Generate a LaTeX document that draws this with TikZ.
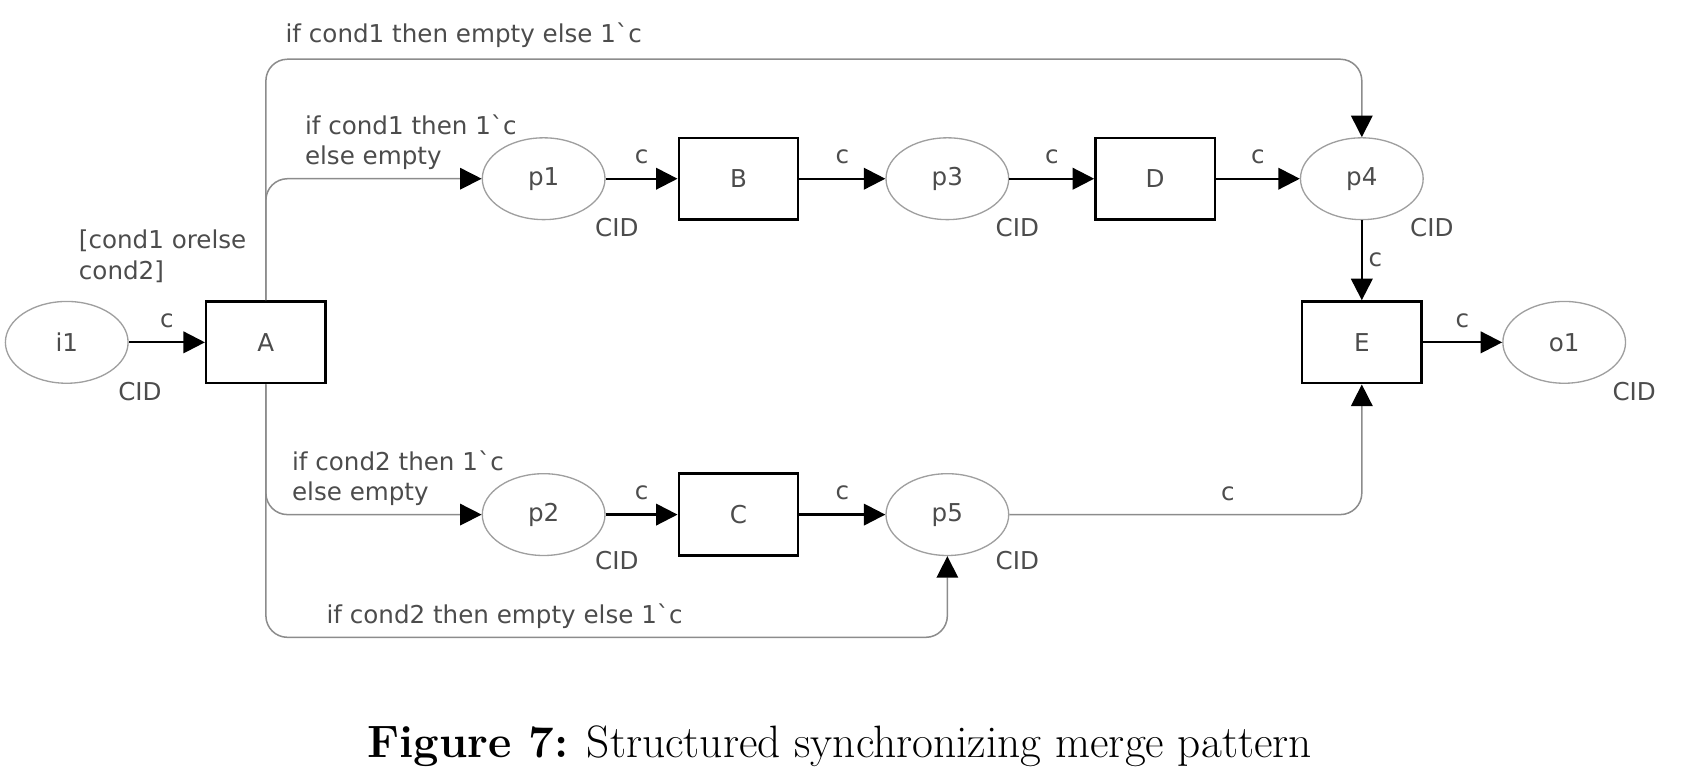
\documentclass[tikz,border=0pt]{standalone}
\usepackage{fontspec}
\newfontfamily\netfont{DejaVu Sans}
\usepackage{tikz}
\usetikzlibrary{shapes.geometric, arrows.meta, positioning, calc}
\definecolor{arcgray}{gray}{0.55}
\definecolor{txtgray}{gray}{0.3}
\tikzstyle{place} = [ellipse, draw=gray!75, line width=0.7pt, minimum width=2.28cm, minimum height=1.52cm, text=txtgray, font=\netfont\fontsize{13}{16}\selectfont]
\tikzstyle{trans} = [rectangle, draw=black, line width=1.3pt, minimum width=2.22cm, minimum height=1.52cm, text=txtgray, font=\netfont\fontsize{13}{16}\selectfont]
\tikzstyle{lab} = [text=txtgray, inner sep=0pt, font=\netfont\fontsize{13}{16}\selectfont]
\tikzstyle{arc} = [line width=1.2pt, -{Triangle[length=0.4cm,width=0.4cm]}]
\tikzstyle{cond} = [draw=arcgray, line width=0.8pt, rounded corners=0.4cm, -{Triangle[length=0.4cm,width=0.4cm,color=black,fill=black]}]

\begin{document}
\begin{tikzpicture}[x=0.02cm, y=-0.02cm]
\useasboundingbox (0,0) rectangle (1568,725);

% Places and transitions
\node (i1) [place] at (62,318) {i1};
\node (A) [trans] at (247,318) {A};
\node (p1) [place] at (505,166) {p1};
\node (B) [trans] at (686,166) {B};
\node (p3) [place] at (880,166) {p3};
\node (D) [trans] at (1073,166) {D};
\node (p4) [place] at (1265,166) {p4};
\node (E) [trans] at (1265,318) {E};
\node (o1) [place] at (1453,318) {o1};
\node (p2) [place] at (505,478) {p2};
\node (C) [trans] at (686,478) {C};
\node (p5) [place] at (880,478) {p5};

% Colour sets
\node (cidi1) [lab] at ($(i1)+(68,46)$) {CID};
\node (cidp1) [lab] at ($(p1)+(68,45)$) {CID};
\node (cidp3) [lab] at ($(p3)+(65,45)$) {CID};
\node (cidp4) [lab] at ($(p4)+(65,45)$) {CID};
\node (cido1) [lab] at ($(o1)+(65,46)$) {CID};
\node (cidp2) [lab] at ($(p2)+(68,43)$) {CID};
\node (cidp5) [lab] at ($(p5)+(65,43)$) {CID};

% Guard and inscriptions
\node (guard) [lab, anchor=west, align=left] at (73,238) {[cond1 orelse\\cond2]};
\node (ins1) [lab, anchor=west, align=left] at (283,132) {if cond1 then 1\textasciigrave c\\else empty};
\node (ins2) [lab, anchor=west, align=left] at (271,444) {if cond2 then 1\textasciigrave c\\else empty};
\node (ins3) [lab, anchor=west] at (265,33) {if cond1 then empty else 1\textasciigrave c};
\node (ins4) [lab, anchor=west] at (303,572) {if cond2 then empty else 1\textasciigrave c};
\coordinate (topline) at (0,55);
\coordinate (botline) at (0,592);

% Arcs
\draw [arc] (i1) -- node[lab, above=7pt] (ci1) {c} (A);
\draw [arc] (p1) -- node[lab, above=7pt] (cp1) {c} (B);
\draw [arc] (B) -- node[lab, above=7pt] (cb) {c} (p3);
\draw [arc] (p3) -- node[lab, above=7pt] (cp3) {c} (D);
\draw [arc] (D) -- node[lab, above=7pt] (cd) {c} (p4);
\draw [arc] (p4) -- node[lab, right=3pt] (cp4) {c} (E);
\draw [arc] (E) -- node[lab, above=7pt] (ce) {c} (o1);
\draw [arc] (p2) -- node[lab, above=7pt] (cp2) {c} (C);
\draw [arc] (C) -- node[lab, above=7pt] (cc) {c} (p5);

\draw [cond] (A.north) -- (A.north |- topline) -- (p4.north |- topline) -- (p4.north);
\draw [cond] (A.north) -- (A.north |- p1) -- (p1.west);
\draw [cond] (A.south) -- (A.south |- p2) -- (p2.west);
\draw [cond] (A.south) -- (A.south |- botline) -- (p5.south |- botline) -- (p5.south);
\draw [cond] (p5.east) -- node[lab, above=7pt, pos=0.62] (cp5) {c} (E.south |- p5) -- (E.south);

% Caption
\node (caption) at (780,693) {\fontsize{24}{28}\selectfont\textbf{Figure 7:} Structured synchronizing merge pattern};

\end{tikzpicture}
\end{document}
